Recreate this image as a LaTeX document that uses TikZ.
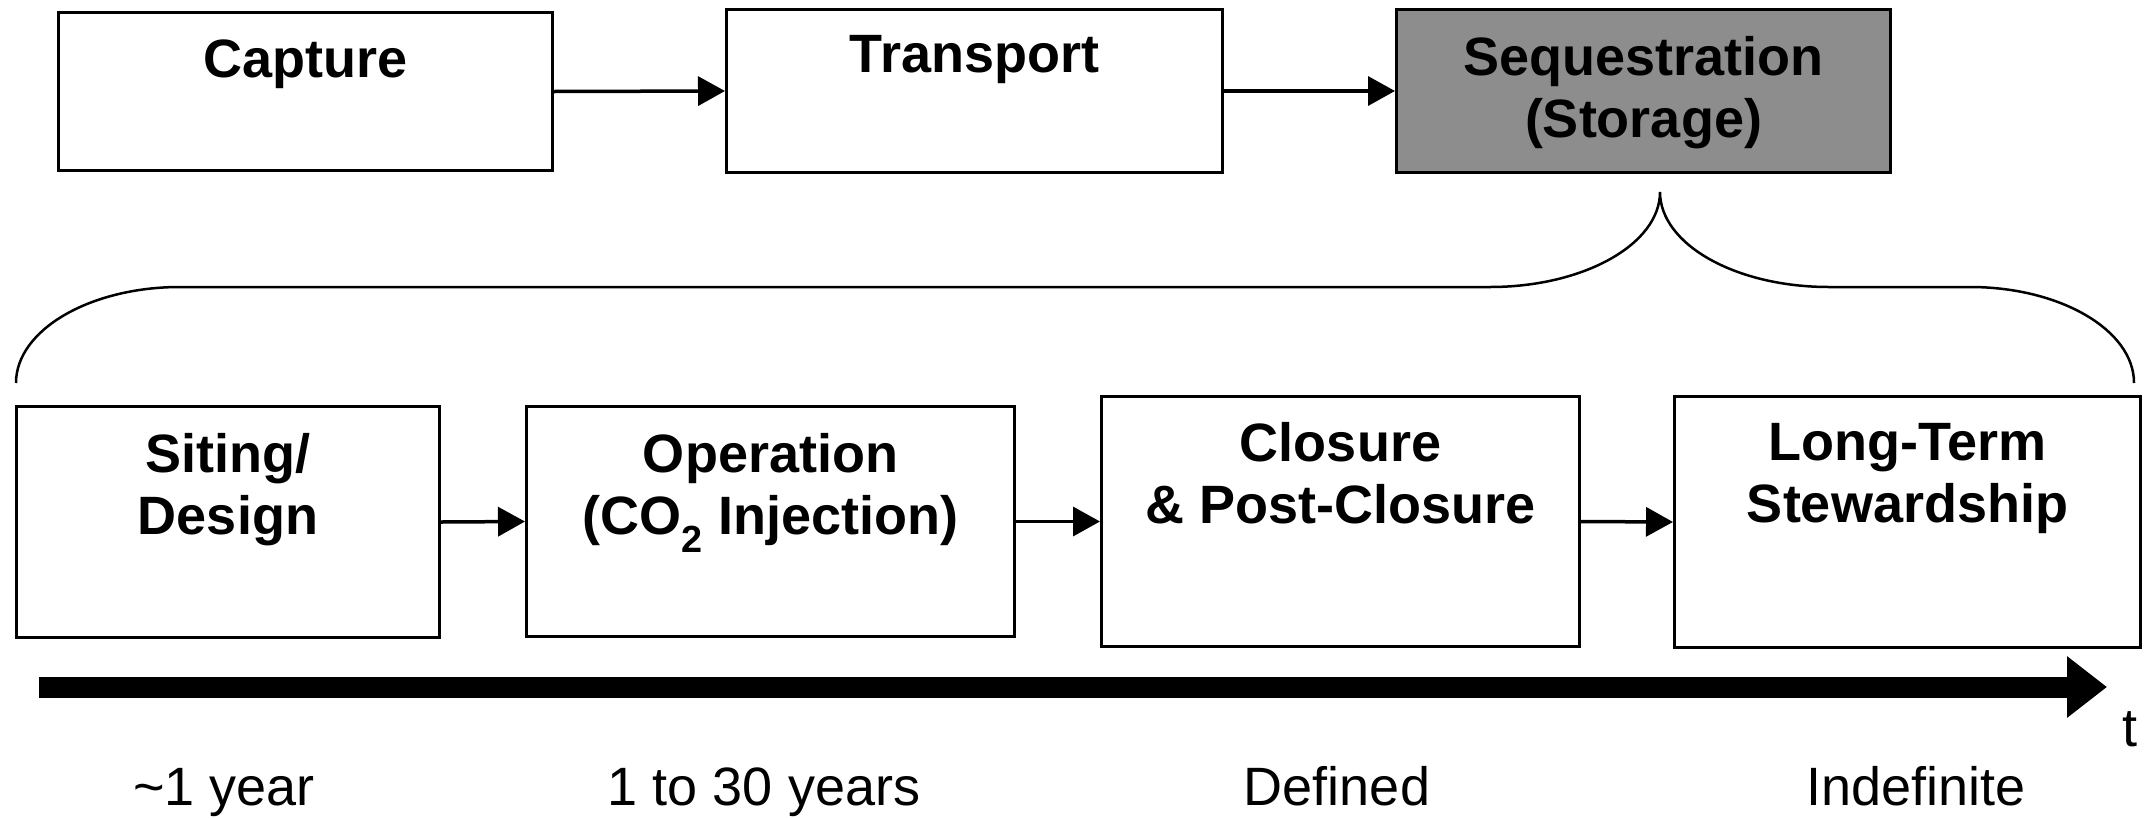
\documentclass[tikz,border=0pt]{standalone}
\usepackage{fontspec}
\setmainfont{Liberation Sans}
\usetikzlibrary{arrows.meta}
\definecolor{seqgray}{RGB}{141,141,141}
\begin{document}
\begin{tikzpicture}[x=1pt,y=-1pt,
  box/.style={draw=black, line width=3pt, fill=white, inner sep=0pt},
  lbl/.style={font=\bfseries\fontsize{54}{62}\selectfont, align=center, inner sep=0pt, anchor=north},
  plain/.style={font=\fontsize{54}{62}\selectfont, inner sep=0pt, anchor=base},
  conn/.style={line width=3.5pt, -{Triangle[length=27pt,width=29pt]}},
  brace/.style={line width=2.5pt},
  timeline/.style={line width=21pt, -{Triangle[length=40pt,width=59pt]}}
]
\useasboundingbox (0,0) rectangle (2146,817);

% top row
\node[box, minimum width=494pt, minimum height=158pt] (cap) at (305.5,91.5) {};
\node[box, minimum width=496pt, minimum height=163pt] (tra) at (974.5,91) {};
\node[box, fill=seqgray, minimum width=494pt, minimum height=163pt] (seq) at (1643.5,91) {};
\node[lbl] (capT) at (305.5,40) {Capture};
\node[lbl] (traT) at (974.5,35) {Transport};
\node[lbl] (seqT) at (1643.5,36) {Sequestration\\(Storage)};
\draw[conn] (cap.east) -- (tra.west);
\draw[conn] (tra.east) -- (seq.west);

% brace
\draw[brace] (16,383) .. controls (16,330) and (90,287) .. (180,287) -- (1490,287)
  .. controls (1584,287) and (1660,244) .. (1660,192)
  .. controls (1660,244) and (1735,287) .. (1829,287) -- (1970,287)
  .. controls (2060,287) and (2134,330) .. (2134,383);

% bottom row
\node[box, minimum width=423pt, minimum height=231pt] (sit) at (228,522) {};
\node[box, minimum width=488pt, minimum height=230pt] (ope) at (770.5,521.5) {};
\node[box, minimum width=478pt, minimum height=250pt] (clo) at (1340.5,521.5) {};
\node[box, minimum width=466pt, minimum height=251pt] (lts) at (1907.5,522) {};
\node[lbl] (sitT) at (228,433) {Siting/\\Design};
\node[lbl] (opeT) at (770.5,433) {Operation\\(CO\textsubscript{2} Injection)};
\node[lbl] (cloT) at (1340.5,422) {Closure\\\& Post-Closure};
\node[lbl] (ltsT) at (1907.5,423) {Long-Term\\Stewardship};
\draw[conn] (sit.east) -- (ope.west);
\draw[conn] (ope.east) -- (clo.west);
\draw[conn] (clo.east) -- (lts.west);

% time axis
\coordinate (t0) at (39,687);
\coordinate (t1) at (2107,687);
\draw[timeline] (t0) -- (t1);
\node[plain] (tl) at (2130,746) {t};

% durations
\node[plain] (d1) at (224,805) {\textasciitilde 1 year};
\node[plain] (d2) at (764,805) {1 to 30 years};
\node[plain] (d3) at (1337,805) {Defined};
\node[plain] (d4) at (1916,805) {Indefinite};
\end{tikzpicture}
\end{document}
